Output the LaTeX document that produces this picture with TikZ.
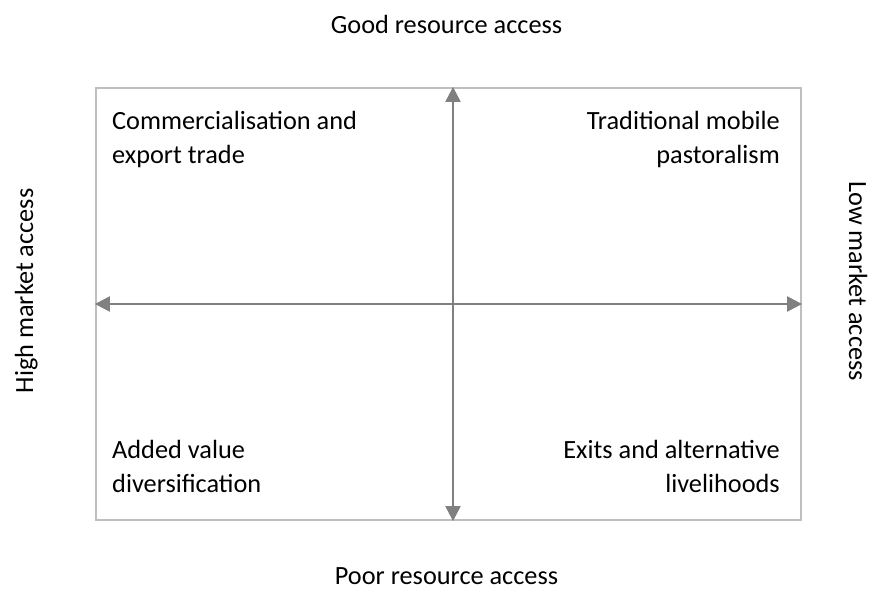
\documentclass[tikz,border=0pt]{standalone}
\usepackage{fontspec}
\setmainfont{Carlito}
\usepackage{xcolor}
\definecolor{qborder}{RGB}{191,191,191}
\definecolor{qarrow}{RGB}{128,128,128}
\usetikzlibrary{arrows.meta,positioning}
\tikzset{
  frame/.style={draw=qborder, line width=2.2pt, minimum width=705pt, minimum height=432pt, inner sep=0pt},
  axis/.style={draw=qarrow, line width=2.2pt, {Triangle[length=15pt,width=15pt]}-{Triangle[length=15pt,width=15pt]}},
  axlabel/.style={font=\fontsize{26.3}{33.5}\selectfont, inner sep=0pt},
  qlabel/.style={font=\fontsize{26.3}{33.5}\selectfont, inner sep=0pt},
}
\begin{document}
\begin{tikzpicture}[x=1pt, y=-1pt]
\useasboundingbox (0,0) rectangle (869,591);

% Frame
\node[frame] (box) at (448.5,304) {};

% Axes
\draw[axis] (box.north -| 453,0) -- (box.south -| 453,0);
\draw[axis] (box.west) -- (box.east);

% Axis labels
\node[axlabel, anchor=base] (good) at (446.5,34) {Good resource access};
\node[axlabel, anchor=base] (poor) at (446.5,584) {Poor resource access};
\node[axlabel, rotate=90, anchor=base] (high) at (33,291) {High market access};
\node[axlabel, rotate=-90, anchor=base] (low) at (849,281) {Low market access};

% Quadrants (base = last line)
\node[qlabel, anchor=base west, align=left] (nw) at (112,163) {Commercialisation and\\export trade};
\node[qlabel, anchor=base east, align=right] (ne) at (780,163) {Traditional mobile\\pastoralism};
\node[qlabel, anchor=base west, align=left] (sw) at (112,492) {Added value\\diversification};
\node[qlabel, anchor=base east, align=right] (se) at (780,492) {Exits and alternative\\livelihoods};

\end{tikzpicture}
\end{document}
